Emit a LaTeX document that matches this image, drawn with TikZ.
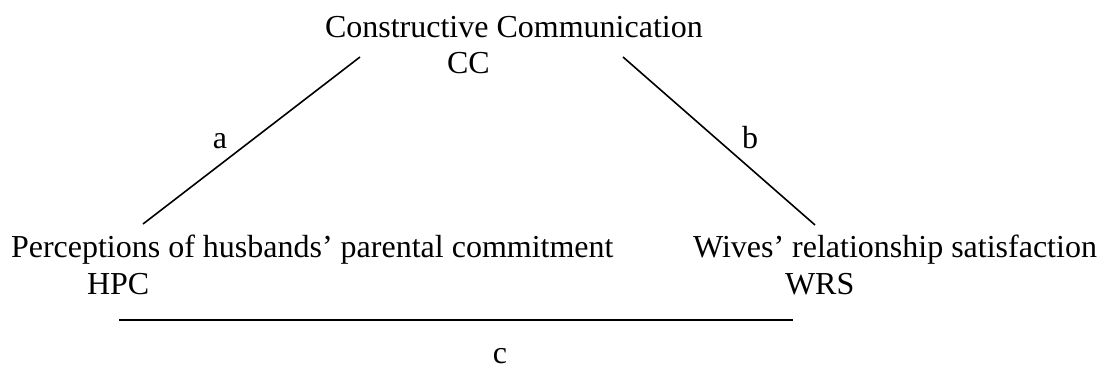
\documentclass[tikz,border=0pt]{standalone}
\usepackage{fontspec}
\setmainfont{Liberation Serif}
\begin{document}
\begin{tikzpicture}[x=1pt,y=-1pt,
  lbl/.style={inner sep=0pt,outer sep=0pt,font=\fontsize{32}{37}\selectfont},
  link/.style={line width=1.6pt,line cap=butt}]
\useasboundingbox (0,0) rectangle (1102,369);
\node[lbl,anchor=base west] (cct) at (325,37.5) {Constructive Communication};
\node[lbl,anchor=base west] (cc) at (447,74) {CC};
\node[lbl,anchor=base west] (hpct) at (11,257) {Perceptions of husbands’ parental commitment};
\node[lbl,anchor=base west] (hpc) at (87,294) {HPC};
\node[lbl,anchor=base east] (wrst) at (1097,257) {Wives’ relationship satisfaction};
\node[lbl,anchor=base west] (wrs) at (785,294) {WRS};
\node[lbl,anchor=base] (a) at (220,148) {a};
\node[lbl,anchor=base] (b) at (750,148) {b};
\node[lbl,anchor=base] (c) at (500,363) {c};
\coordinate (a1) at (360,57);
\coordinate (a2) at (143,224);
\coordinate (b1) at (623,57);
\coordinate (b2) at (815,225);
\coordinate (c1) at (119,320);
\coordinate (c2) at (793,320);
\draw[link] (a1) -- (a2);
\draw[link] (b1) -- (b2);
\draw[link] (c1) -- (c2);
\end{tikzpicture}
\end{document}
